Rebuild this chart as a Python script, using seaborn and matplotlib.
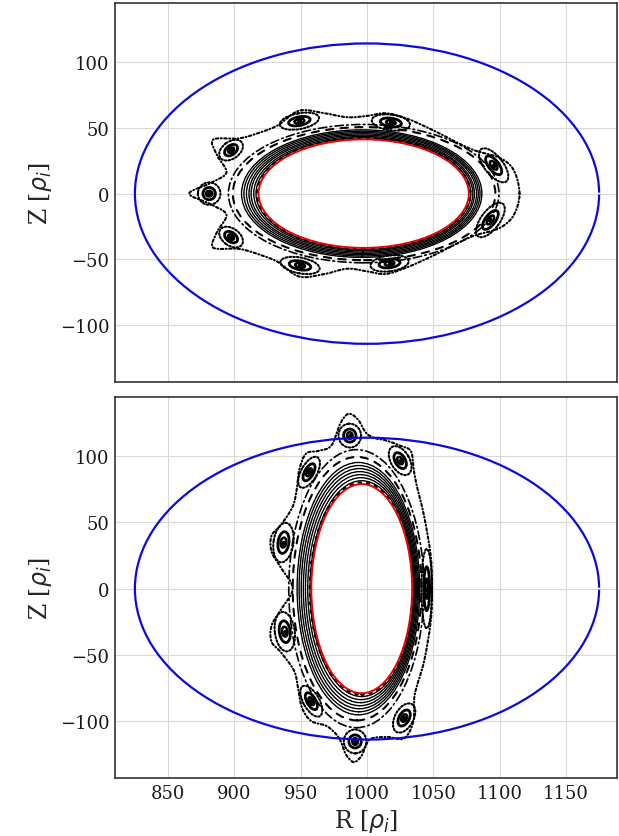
import numpy as np
import pandas as pd
import matplotlib
matplotlib.use("Agg")
import matplotlib.pyplot as plt
import seaborn as sns
from matplotlib.patches import Ellipse, Arc, PathPatch
from matplotlib.path import Path

# ------------------------------------------------------------------ data
# boundary (blue) ellipse, same in both panels: centre R, semi-axes
wall_R0 = 1000.0
wall_a = 175.0
wall_b = 114.0

# ---------- top panel
red_top = [997.5, 79.3, 41.2]                     # Rc, a, b
ring_top_Rc = [997.3, 997.2, 996.8, 996.8, 996.5, 996.2, 996.0]
ring_top_a = [81.0, 82.6, 84.2, 85.8, 87.4, 89.0, 90.6]
ring_top_b = [42.4, 43.4, 44.4, 45.4, 46.4, 47.4, 48.4]
dashed_top = [997.8, 99.0, 50.5]
sep_top = [997.5, 102.0, 52.5]
chain_top = [990.0, 110.0, 56.0]                  # ellipse through island chain
isl_top_R = [949.0, 1018.0, 897.5, 881.0, 897.5, 949.5, 1017.0, 1095.5, 1093.0]
isl_top_Z = [55.0, 54.0, 33.0, 0.0, -33.0, -54.5, -53.0, 21.5, -20.0]
isl_top_L = [15.0, 14.5, 10.0, 8.5, 10.0, 15.0, 14.5, 15.5, 15.5]
isl_top_W = [6.0, 6.0, 6.5, 8.5, 6.5, 6.0, 6.0, 7.0, 7.0]
env_top_R = [1115, 1113, 1108, 1098, 1078, 1050, 1030, 1014, 1000, 985, 968, 949,
             933, 921, 904, 884, 887, 894, 882, 866, 882, 894, 887, 884, 904, 921,
             933, 949, 968, 985, 1000, 1014, 1030, 1050, 1078, 1098, 1108, 1113]
env_top_Z = [0, 12, 21.5, 28, 34, 48, 57, 61, 59, 58, 61, 63,
             52, 47, 42, 41, 29, 16, 8, 0, -8, -16, -29, -41, -42, -47,
             -52, -63, -61, -57, -59, -61, -56, -47, -33, -27, -20, -11]

# ---------- bottom panel
red_bot = [996.0, 38.0, 79.0]
ring_bot_Rc = [996.0, 995.5, 995.0, 994.6, 994.2, 993.8, 993.5]
ring_bot_a = [39.0, 40.2, 41.4, 42.6, 43.8, 45.0, 46.2]
ring_bot_b = [81.5, 83.8, 86.1, 88.4, 90.7, 93.0, 95.3]
dashed_bot = [992.5, 48.5, 99.5]
sep_bot = [992.0, 51.0, 105.0]
chain_bot = [990.0, 54.0, 117.0]
isl_bot_R = [987.0, 1025.0, 956.3, 937.0, 938.0, 958.0, 1028.0, 991.0, 1045.0]
isl_bot_Z = [115.6, 96.7, 87.9, 34.8, -32.5, -85.0, -97.7, -115.4, 0.0]
isl_bot_L = [8.5, 12.0, 13.0, 15.0, 15.0, 13.0, 12.0, 8.5, 30.0]
isl_bot_W = [9.0, 7.0, 6.0, 7.5, 7.5, 6.0, 7.0, 9.0, 4.0]
env_bot_R = [1049, 1048, 1043, 1037, 1035, 1033, 1025, 1014, 1005, 999, 993, 986,
             980, 973, 963, 954, 949, 947, 944, 935, 928, 928, 935, 944,
             935, 928, 928, 935, 945, 948, 951, 958, 970, 979, 984, 990, 996,
             1002, 1015, 1028, 1035, 1036, 1043, 1048]
env_bot_Z = [0, 25, 55, 80, 92, 104, 108, 112, 114, 118, 128, 132,
             125, 108, 104, 102, 90, 75, 62, 48, 40, 28, 16, 0,
             -16, -28, -40, -48, -62, -75, -90, -100, -104, -113, -125, -131, -126,
             -114, -112, -113, -100, -80, -55, -25]

yticks = [-100, -50, 0, 50, 100]
xticks = [850, 900, 950, 1000, 1050, 1100, 1150]

# ------------------------------------------------------------------ style
sns.set_theme(style="whitegrid")
plt.rcParams["font.family"] = ["DejaVu Serif"]
plt.rcParams["mathtext.fontset"] = "dejavusans"
plt.rcParams["axes.edgecolor"] = "#333333"
plt.rcParams["axes.linewidth"] = 1.2
plt.rcParams["grid.color"] = "#d9d9d9"
plt.rcParams["grid.linewidth"] = 0.8

DOT = (0, (0.7, 1.0))


def closed_smooth_path(R, Z):
    P = np.column_stack([R, Z]).astype(float)
    n = len(P)
    verts = [P[0]]
    codes = [Path.MOVETO]
    for i in range(n):
        p0, p1, p2, p3 = P[i - 1], P[i], P[(i + 1) % n], P[(i + 2) % n]
        verts += [p1 + (p2 - p0) / 6.0, p2 - (p3 - p1) / 6.0, p2]
        codes += [Path.CURVE4] * 3
    return Path(verts, codes)


def ell(ax, Rc, Zc, a, b, angle=0.0, **kw):
    kw.setdefault("capstyle", "round")
    ax.add_patch(Ellipse((Rc, Zc), 2 * a, 2 * b, angle=angle, fill=False, **kw))


def draw_panel(ax, red, rRc, ra, rb, dashed, sep, chain, iR, iZ, iL, iW, eR, eZ):
    # nested flux surfaces
    for Rc, a, b in zip(rRc, ra, rb):
        ell(ax, Rc, 0, a, b, ec="black", lw=1.0, ls=(0, (2.5, 0.6)), zorder=2)
    ell(ax, dashed[0], 0, dashed[1], dashed[2], ec="black", lw=1.5, ls=(0, (3.5, 3.5)), zorder=2)
    ell(ax, sep[0], 0, sep[1], sep[2], ec="black", lw=1.2, ls=(0, (5, 2, 1, 2)), zorder=2)
    # innermost sparse surface + red reference ellipse
    ell(ax, red[0], 0, red[1] + 0.9, red[2] + 0.9, ec="black", lw=2.2, ls=(0, (0.5, 2.2)), zorder=2)
    ell(ax, red[0], 0, red[1], red[2], ec="#ee0000", lw=1.4, ls="-", zorder=3)
    # islands
    for R, Z, L, W in zip(iR, iZ, iL, iW):
        t = np.arctan2(Z / chain[2], (R - chain[0]) / chain[1])
        ang = np.degrees(np.arctan2(chain[2] * np.cos(t), -chain[1] * np.sin(t)))
        ell(ax, R, Z, L, W, angle=ang, ec="black", lw=1.5, ls=(0, (0.8, 1.0)), zorder=2)
        ell(ax, R, Z, 0.55 * L, 0.55 * W, angle=ang, ec="black", lw=2.0, ls="-", zorder=2)
        ell(ax, R, Z, 0.25 * L, 0.28 * W, angle=ang, ec="black", lw=1.8, ls="-", zorder=2)
    # outer chaotic envelope
    ax.add_patch(PathPatch(closed_smooth_path(eR, eZ), fill=False, ec="black", lw=1.5,
                           ls=(0, (1.2, 1.2, 0.4, 1.2)), capstyle="round", zorder=2))
    # island O-points through seaborn
    df = pd.DataFrame({"R": iR, "Z": iZ})
    sns.scatterplot(data=df, x="R", y="Z", ax=ax, color="black", s=14, linewidth=0, zorder=3)
    # wall
    ax.add_patch(Arc((wall_R0, 0), 2 * wall_a, 2 * wall_b, theta1=0.25, theta2=359.75,
                     color="#0a0ae0", lw=1.6, zorder=4))

    ax.set_xlim(810, 1188.5)
    ax.set_ylim(-143, 144.5)
    ax.set_xticks(xticks)
    ax.set_yticks(yticks)
    ax.tick_params(labelsize=13, length=0, pad=4, colors="#1a1a1a")
    for s in ax.spines.values():
        s.set_visible(True)
        s.set_color("#333333")
        s.set_linewidth(1.2)
    ax.set_ylabel(r"Z [$\rho_i$]", fontsize=17)
    ax.grid(True)
    ax.set_axisbelow(True)


fig = plt.figure(figsize=(6.19, 8.37), dpi=100)
ax1 = fig.add_axes([0.1858, 0.5424, 0.811, 0.4525])
ax2 = fig.add_axes([0.1858, 0.0693, 0.811, 0.4548])

draw_panel(ax1, red_top, ring_top_Rc, ring_top_a, ring_top_b, dashed_top, sep_top, chain_top,
           isl_top_R, isl_top_Z, isl_top_L, isl_top_W, env_top_R, env_top_Z)
draw_panel(ax2, red_bot, ring_bot_Rc, ring_bot_a, ring_bot_b, dashed_bot, sep_bot, chain_bot,
           isl_bot_R, isl_bot_Z, isl_bot_L, isl_bot_W, env_bot_R, env_bot_Z)

ax1.set_xlabel("")
ax1.tick_params(labelbottom=False)
ax2.set_xlabel(r"R [$\rho_i$]", fontsize=17)

fig.savefig("out.png", dpi=100)
